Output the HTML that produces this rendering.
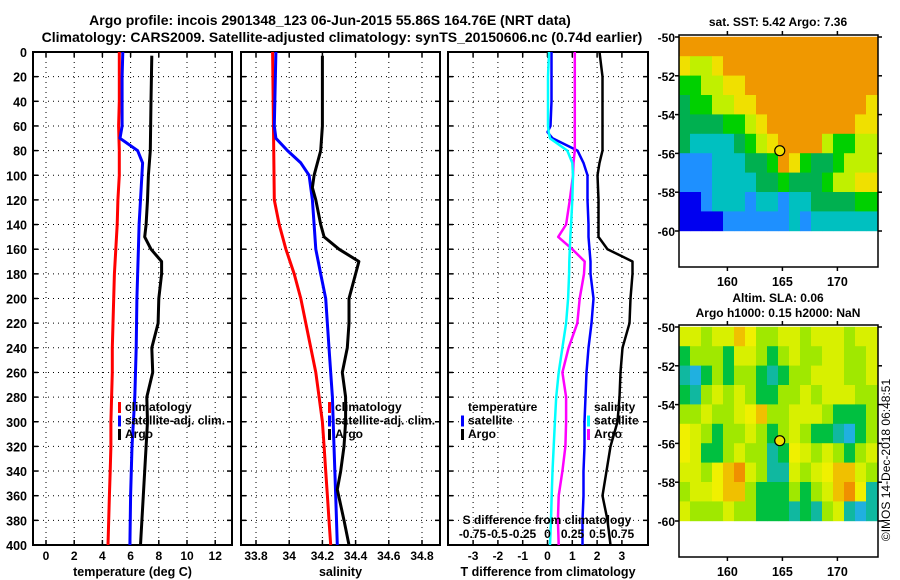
<!DOCTYPE html>
<html><head><meta charset="utf-8">
<style>
html,body{margin:0;padding:0;background:#fff;}
svg{display:block;font-family:"Liberation Sans",sans-serif;font-weight:bold;}
</style></head>
<body>
<svg id="fig" width="900" height="580" viewBox="0 0 900 580" xmlns="http://www.w3.org/2000/svg">
<text x="330" y="25" text-anchor="middle" font-size="14">Argo profile: incois 2901348_123 06-Jun-2015 55.86S 164.76E (NRT data)</text>
<text x="342" y="42" text-anchor="middle" font-size="14">Climatology: CARS2009. Satellite-adjusted climatology: synTS_20150606.nc (0.74d earlier)</text>
<g id="panels"></g>
<g id="maps"></g>
<text transform="translate(890,460) rotate(-90)" text-anchor="middle" font-size="12" font-weight="normal">©IMOS 14-Dec-2018 06:48:51</text>
</svg>
<script>
// ---------- profile data ----------
const depthTicks=[0,20,40,60,80,100,120,140,160,180,200,220,240,260,280,300,320,340,360,380,400];
const tempTicks=[0,2,4,6,8,10,12];
const salTicks=[33.8,34,34.2,34.4,34.6,34.8];
const salTickLabels=["33.8","34","34.2","34.4","34.6","34.8"];
const tdiffTicks=[-3,-2,-1,0,1,2,3];
const sdiffTicks=[-0.75,-0.5,-0.25,0,0.25,0.5,0.75];
const sdiffTickLabels=["-0.75","-0.5","-0.25","0","0.25","0.5","0.75"];

const tClimDepth=[0,20,40,60,80,100,120,140,160,180,200,220,240,260,280,300,320,340,360,380,400];
const tClim=[5.2,5.2,5.2,5.15,5.2,5.2,5.1,5.05,4.95,4.85,4.8,4.75,4.7,4.7,4.65,4.6,4.6,4.55,4.5,4.45,4.4];
const tSatDepth=[0,20,40,60,70,80,90,100,120,140,160,200,240,280,320,360,400];
const tSat=[5.45,5.4,5.4,5.4,5.25,6.5,6.85,6.8,6.7,6.6,6.55,6.45,6.4,6.3,6.1,6.0,5.95];
const tArgoDepth=[3,40,80,100,120,140,150,160,170,180,200,220,240,260,280,300,320,340,360,380,400];
const tArgo=[7.5,7.45,7.4,7.26,7.2,7.1,7.0,7.45,8.2,8.2,8.0,7.95,7.5,7.57,7.15,7.2,7.1,7.0,6.9,6.8,6.7];

const sClimDepth=[0,120,140,160,180,200,220,240,260,280,300,320,340,360,380,400];
const sClim=[33.9,33.91,33.94,33.98,34.03,34.07,34.1,34.13,34.16,34.18,34.2,34.21,34.22,34.23,34.24,34.25];
const sSatDepth=[0,60,70,80,90,100,120,140,160,180,200,240,280,320,360,400];
const sSat=[33.92,33.91,33.92,33.99,34.07,34.12,34.14,34.15,34.16,34.19,34.22,34.24,34.26,34.27,34.28,34.29];
const sArgoDepth=[3,60,80,100,110,120,140,150,160,170,180,200,220,240,260,280,300,320,340,355,380,400];
const sArgo=[34.2,34.2,34.19,34.15,34.14,34.16,34.19,34.21,34.3,34.42,34.4,34.36,34.36,34.35,34.32,34.34,34.34,34.33,34.31,34.29,34.33,34.36];

const dDepth=[0,20,40,60,65,70,80,90,100,120,140,150,160,170,180,200,220,240,260,280,300,320,340,360,380,400];
const dTSat=[0.06,0.02,0.02,0.02,0.05,0.1,0.8,1.0,1.03,1.0,0.95,0.92,0.9,0.88,0.87,0.83,0.75,0.6,0.45,0.35,0.3,0.25,0.2,0.17,0.14,0.1];
const dTArgo=[1.1,1.1,1.1,1.1,1.1,1.1,1.1,1.05,1.03,0.9,0.75,0.43,1.0,1.5,1.47,1.3,1.2,0.85,0.6,0.75,0.75,0.72,0.6,0.45,0.42,0.45];
const dSSat=[0.04,0.04,0.04,0.03,0.0,0.05,0.3,0.36,0.4,0.4,0.41,0.41,0.42,0.43,0.43,0.46,0.44,0.41,0.39,0.38,0.37,0.37,0.36,0.36,0.35,0.35];
const dSArgo=[0.52,0.55,0.55,0.55,0.55,0.55,0.55,0.52,0.5,0.51,0.51,0.51,0.6,0.85,0.85,0.83,0.82,0.75,0.73,0.72,0.7,0.63,0.59,0.55,0.6,0.63];

// ---------- map data (1-degree cells, rows from 50S southward, cols from 155.6E) ----------
const sstRows=[
[7,7,7,7,7,7,7,7,7,7,7,7,7,7,7,7,7,7],
[6,5,5,6,7,7,7,7,7,7,7,7,7,7,7,7,7,7],
[4,4,5,5,6,6,7,7,7,7,7,7,7,7,7,7,7,7],
[3,4,4,5,5,6,6,7,7,7,7,7,7,7,7,7,7,6],
[3,3,3,3,4,4,5,6,7,7,7,7,7,7,7,7,6,6],
[3,2,2,2,2,3,4,5,6,7,7,7,7,5,4,4,5,5],
[1,1,1,2,2,2,3,3,4,7,6,4,3,3,4,5,5,5],
[1,1,1,2,2,2,2,3,3,4,3,3,3,4,5,5,6,6],
[0,0,1,2,2,2,1,2,2,1,2,2,3,3,3,3,4,4],
[0,0,0,0,1,1,1,1,1,1,2,1,2,2,2,2,2,2]];
const sstColors=["#0000f0","#1e90ff","#00c0c0","#00b050","#00d000","#c0f000","#f0e000","#f09800","#f00000"];
const slaRows=[
[4,4,3,4,4,6,5,3,3,4,4,3,4,4,4,3,4,4],
[2,3,3,3,2,4,4,3,2,3,4,3,3,4,4,3,3,4],
[1,0,2,3,2,3,3,2,1,2,3,3,4,4,4,3,3,4],
[2,1,3,4,3,4,3,2,2,3,3,4,3,4,4,4,3,3],
[3,3,4,3,3,4,5,6,3,3,4,4,4,3,2,2,2,3],
[5,4,3,2,3,3,4,3,2,3,4,3,2,2,1,0,2,3],
[5,4,2,2,3,4,3,3,1,2,5,4,3,4,3,2,3,4],
[4,4,3,5,6,7,4,3,1,1,4,3,4,5,6,6,4,3],
[3,4,4,5,6,6,3,2,2,2,3,2,3,4,6,7,5,1],
[4,3,3,3,4,3,3,2,2,2,1,2,1,3,4,1,0,1]];
const slaColors=["#20b0e0","#10b8a0","#00c040","#a0e800","#d8f000","#f0f000","#f0c000","#f09000"];
const mapLonTicks=[160,165,170];
const mapLatTicks=[-50,-52,-54,-56,-58,-60];
const argoLon=164.76, argoLat=-55.86;

const NS="http://www.w3.org/2000/svg";
function mk(tag,attrs,parent){const e=document.createElementNS(NS,tag);for(const k in attrs)e.setAttribute(k,attrs[k]);parent.appendChild(e);return e;}
const panelsG=document.getElementById('panels');
const Y0=52,Y1=545;
const yD=d=>Y0+(d/400)*(Y1-Y0);

function drawPanel(name,x0,x1,sx,vTicks,vLabels,xlabel,showY){
  const g=mk('g',{},panelsG);
  
  
  vTicks.forEach(v=>{const l=mk('line',{x1:sx(v),x2:sx(v),y1:Y0,y2:Y1,stroke:'#000','stroke-width':1,'stroke-dasharray':'1,4'},g);
    });
  depthTicks.forEach(d=>{if(d===0||d===400)return;const l=mk('line',{x1:x0,x2:x1,y1:yD(d),y2:yD(d),stroke:'#000','stroke-width':1,'stroke-dasharray':'1,4'},g);
    
    mk('line',{x1:x0,x2:x0+5,y1:yD(d),y2:yD(d),stroke:'#000','stroke-width':1.5},g);
    mk('line',{x1:x1-5,x2:x1,y1:yD(d),y2:yD(d),stroke:'#000','stroke-width':1.5},g);});
  vTicks.forEach((v,i)=>{mk('line',{x1:sx(v),x2:sx(v),y1:Y1-5,y2:Y1,stroke:'#000','stroke-width':1.5},g);
    mk('line',{x1:sx(v),x2:sx(v),y1:Y0,y2:Y0+5,stroke:'#000','stroke-width':1.5},g);
    const t=mk('text',{x:sx(v),y:560,'text-anchor':'middle','font-size':12},g);t.textContent=vLabels[i];
    });
  const f=mk('rect',{x:x0,y:Y0,width:x1-x0,height:Y1-Y0,fill:'none',stroke:'#000','stroke-width':2},g);
  
  const xl=mk('text',{x:(x0+x1)/2,y:576,'text-anchor':'middle','font-size':12.5},g);xl.textContent=xlabel;
  
  if(showY){depthTicks.forEach(d=>{const t=mk('text',{x:27,y:yD(d)+5,'text-anchor':'end','font-size':12.5},g);t.textContent=d;
    });}
  return g;
}
function series(g,name,depths,vals,sx,color,w){
  const pts=depths.map((d,i)=>sx(vals[i]).toFixed(1)+','+yD(d).toFixed(1)).join(' ');
  const p=mk('polyline',{points:pts,fill:'none',stroke:color,'stroke-width':w,'stroke-linejoin':'round'},g);
  
  
}
function legend(g,x,y,items){
  items.forEach((it,i)=>{
    if(it.color){mk('rect',{x:x-7,y:y+i*13.5-9,width:3,height:11,fill:it.color},g);}
    const t=mk('text',{x:x,y:y+i*13.5,'font-size':12},g);t.textContent=it.label;
    
    
  });
}

// Panel 1: temperature
const sxT=v=>46+v*14.1;
const g1=drawPanel('temperature-panel',33,232,sxT,tempTicks,tempTicks.map(String),'temperature (deg C)',true);
series(g1,'temp-climatology-line',tClimDepth,tClim,sxT,'#f00',3);
series(g1,'temp-satellite-line',tSatDepth,tSat,sxT,'#00f',3);
series(g1,'temp-argo-line',tArgoDepth,tArgo,sxT,'#000',3);
legend(g1,125,411,[{label:'climatology',color:'#f00'},{label:'satellite-adj. clim.',color:'#00f'},{label:'Argo',color:'#000'}]);

// Panel 2: salinity
const sxS=v=>256+(v-33.8)*166;
const g2=drawPanel('salinity-panel',241,440,sxS,salTicks,salTickLabels,'salinity',false);
series(g2,'sal-climatology-line',sClimDepth,sClim,sxS,'#f00',3);
series(g2,'sal-satellite-line',sSatDepth,sSat,sxS,'#00f',3);
series(g2,'sal-argo-line',sArgoDepth,sArgo,sxS,'#000',3);
legend(g2,335,411,[{label:'climatology',color:'#f00'},{label:'satellite-adj. clim.',color:'#00f'},{label:'Argo',color:'#000'}]);

// Panel 3: differences
const sxDT=v=>547.5+v*24.8;
const sxDS=v=>547.5+v*100;
const g3=drawPanel('difference-panel',448,648,sxDT,tdiffTicks,tdiffTicks.map(String),'T difference from climatology',false);
series(g3,'s-sat-diff-line',dDepth,dSSat,sxDS,'#00f',2.5);
series(g3,'s-argo-diff-line',dDepth,dSArgo,sxDS,'#000',2.5);
series(g3,'t-argo-diff-line',dDepth,dTArgo,sxDT,'#f0f',2.5);
series(g3,'t-sat-diff-line',dDepth,dTSat,sxDT,'#0ff',2.5);
legend(g3,468,411,[{label:'temperature'},{label:'satellite',color:'#00f'},{label:'Argo',color:'#000'}]);
legend(g3,594,411,[{label:'salinity'},{label:'satellite',color:'#0ff'},{label:'Argo',color:'#f0f'}]);
const st=mk('text',{x:547,y:524,'text-anchor':'middle','font-size':12},g3);st.textContent='S difference from climatology';


sdiffTicks.forEach((v,i)=>{const t=mk('text',{x:sxDS(v),y:538,'text-anchor':'middle','font-size':12},g3);t.textContent=sdiffTickLabels[i];
  
  });

// ---------- maps ----------
const mapsG=document.getElementById('maps');
const MX0=679,MX1=878,LON0=155.6;
const sxLon=lon=>MX0+(lon-LON0)*11;
function drawMap(name,top,latTop,rows,colors,titles){
  const g=mk('g',{},mapsG);
  
  
  const syLat=lat=>latTop+(-50-lat)*19.4;
  rows.forEach((row,r)=>row.forEach((v,c)=>{
    const x=sxLon(LON0+c), y=syLat(-50-r);
    const w=(c===row.length-1)?MX1-x:11.2;
    const cell=mk('rect',{x:x,y:y-0.2,width:w,height:19.8,fill:colors[v]},g);
    
    
  }));
  const bottom=syLat(-60)+36;
  const f=mk('rect',{x:MX0,y:top,width:MX1-MX0,height:bottom-top,fill:'none',stroke:'#000','stroke-width':1.5},g);
  
  mapLatTicks.forEach(l=>{const y=syLat(l);mk('line',{x1:MX0,x2:MX0-4,y1:y,y2:y,stroke:'#000','stroke-width':1.5},g);
    mk('line',{x1:MX1,x2:MX1+4,y1:y,y2:y,stroke:'#000','stroke-width':1.5},g);
    const t=mk('text',{x:675,y:y+5,'text-anchor':'end','font-size':12},g);t.textContent=l;
    });
  mapLonTicks.forEach(l=>{const x=sxLon(l);mk('line',{x1:x,x2:x,y1:top,y2:top-4,stroke:'#000','stroke-width':1.5},g);
    mk('line',{x1:x,x2:x,y1:bottom,y2:bottom+4,stroke:'#000','stroke-width':1.5},g);
    const t=mk('text',{x:x,y:bottom+19,'text-anchor':'middle','font-size':12.5},g);t.textContent=l;
    });
  const c=mk('circle',{cx:sxLon(argoLon),cy:syLat(argoLat),r:5,fill:'#f0e000',stroke:'#000','stroke-width':1.2},g);
  
  titles.forEach((tt,i)=>{const t=mk('text',{x:778,y:tt.y,'text-anchor':'middle','font-size':12},g);t.textContent=tt.s;
    });
}
drawMap('sst-map',35,37,sstRows,sstColors,[{s:'sat. SST: 5.42 Argo: 7.36',y:26}]);
drawMap('sla-map',325,327,slaRows,slaColors,[{s:'Altim. SLA: 0.06',y:302},{s:'Argo h1000: 0.15 h2000: NaN',y:317}]);
</script>
</body></html>
